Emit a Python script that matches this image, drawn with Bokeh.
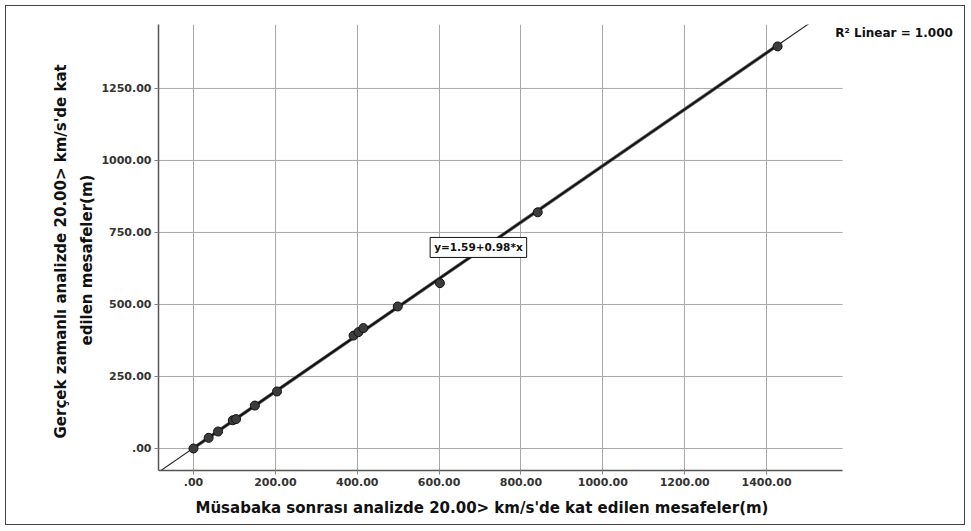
import numpy as np
from bokeh.plotting import figure
from bokeh.models import Label, FixedTicker, NumeralTickFormatter, Range1d, Title
from bokeh.embed import file_html
from bokeh.resources import INLINE

# ---- data ----
x_vals = [0, 37, 60, 96, 104, 150, 204, 391, 403, 415, 499, 602, 841, 1427]
y_vals = [0, 37, 59, 98, 102, 149, 198, 392, 404, 418, 493, 574, 820, 1396]
intercept = 1.59
slope = 0.98
x_ticks = [0, 200, 400, 600, 800, 1000, 1200, 1400]
y_ticks = [0, 250, 500, 750, 1000, 1250]
x_title = "Müsabaka sonrası analizde 20.00> km/s'de kat edilen mesafeler(m)"
y_title_1 = "Gerçek zamanlı analizde 20.00> km/s'de kat"
y_title_2 = "edilen mesafeler(m)"
r2_text = "R² Linear = 1.000"
eq_text = "y=1.59+0.98*x"

FONT = "DejaVu Sans"
x0, x_axis_end, x_view_end = -85.5, 1585.6, 1886.0
y0, y1 = -76.4, 1472.0

p = figure(width=960, height=520, output_backend="svg", toolbar_location=None,
           x_range=Range1d(x0, x_view_end), y_range=Range1d(y0, y1),
           min_border_left=152, min_border_right=1, min_border_top=18,
           min_border_bottom=56)
p.styles = {"border": "1px solid #444", "margin-left": "5px", "margin-top": "5px"}
p.outline_line_color = None
p.background_fill_color = "white"
p.border_fill_color = "white"

for ax, ticks in ((p.xaxis[0], x_ticks), (p.yaxis[0], y_ticks)):
    ax.ticker = FixedTicker(ticks=ticks)
    ax.formatter = NumeralTickFormatter(format="0.00")
    ax.major_label_overrides = {0: ".00"}
    ax.major_label_text_font = FONT
    ax.major_label_text_font_style = "bold"
    ax.major_label_text_font_size = "11px"
    ax.major_label_text_color = "#333333"
    ax.axis_line_color = "#555555"
    ax.axis_line_width = 1.5
    ax.major_tick_out = 4
    ax.major_tick_in = 0
    ax.major_tick_line_color = "#888888"
    ax.minor_tick_line_color = None
    ax.major_label_standoff = 3
p.xaxis[0].bounds = (x0, x_axis_end)

p.xgrid.ticker = FixedTicker(ticks=x_ticks)
p.xgrid.grid_line_color = "#a8a8a8"
p.xgrid.grid_line_width = 1
p.ygrid.grid_line_color = None
# horizontal grid lines stop at the end of the x axis
p.segment(x0=[x0] * len(y_ticks), y0=y_ticks, x1=[x_axis_end] * len(y_ticks), y1=y_ticks,
          line_color="#a8a8a8", line_width=1, level="underlay")

# thin fit line across the full range
xs_full = np.array([x0, x_axis_end])
p.line(xs_full, intercept + slope * xs_full, line_color="#222222", line_width=1.1)

# thick fit line over data range
xs_d = np.array([min(x_vals), max(x_vals)])
p.line(xs_d, intercept + slope * xs_d, line_color="#666666", line_width=3.4)
p.line(xs_d, intercept + slope * xs_d, line_color="#111111", line_width=2.0)

p.scatter(x_vals, y_vals, size=9, fill_color="#3c3c3c", line_color="#111111", line_width=1)

# equation label
p.add_layout(Label(x=696, y=698, text=eq_text, text_align="center", text_baseline="middle",
                   text_font=FONT, text_font_style="bold", text_font_size="10.5px",
                   text_color="#111111", background_fill_color="white",
                   border_line_color="#111111", border_line_width=1, padding=4))

# R^2 label
p.add_layout(Label(x=1568, y=1441, text=r2_text, text_align="left", text_baseline="middle",
                   text_font=FONT, text_font_style="bold", text_font_size="12px",
                   text_color="#111111"))

# axis titles
p.add_layout(Title(text=x_title, align="left", offset=37, standoff=16,
                   text_font=FONT, text_font_style="bold", text_font_size="15px",
                   text_color="#111111"), "below")
p.add_layout(Title(text=y_title_2, align="left", offset=125, standoff=6,
                   text_font=FONT, text_font_style="bold", text_font_size="15px",
                   text_color="#111111"), "left")
p.add_layout(Title(text=y_title_1, align="left", offset=32, standoff=6,
                   text_font=FONT, text_font_style="bold", text_font_size="15px",
                   text_color="#111111"), "left")

open("out.html", "w").write(file_html(p, INLINE))
